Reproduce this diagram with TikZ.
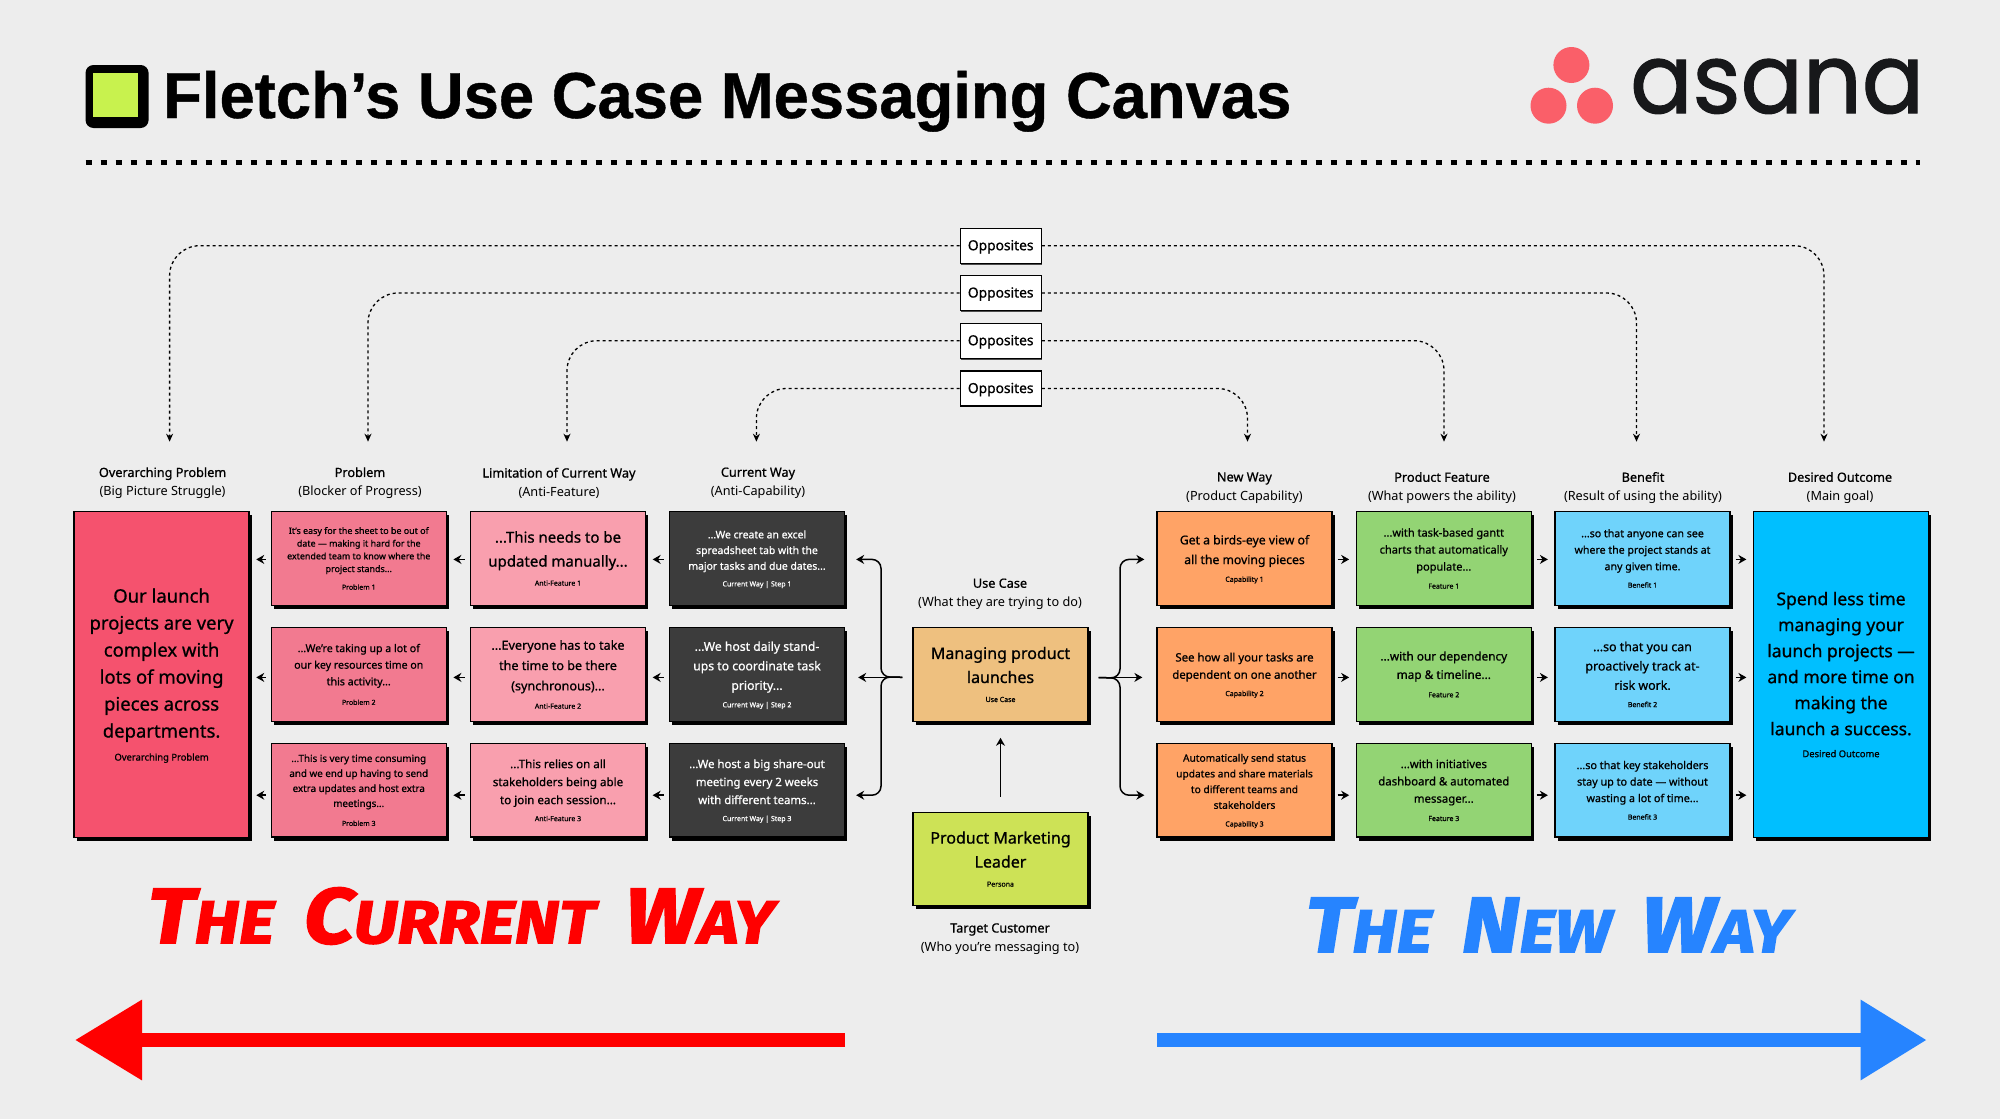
\documentclass[tikz,border=0pt]{standalone}
\usepackage{fontspec}
\usepackage{tikz}
\usetikzlibrary{arrows.meta,positioning,shadows}
\setmainfont{Noto Sans}
\newfontfamily\medfont{Noto Sans}[FakeBold=0.8]
\newfontfamily\titlefont{Liberation Sans}[FakeStretch=0.975,BoldFeatures={FakeBold=0.6}]
\newfontfamily\logofont{Poppins}[FakeStretch=0.95,FakeBold=1.2]
\newfontfamily\markfont{Fira Sans}[FakeStretch=1.13,UprightFont=*,ItalicFont=* Italic,BoldItalicFont=* Bold Italic,BoldItalicFeatures={FakeBold=2.5}]
\newcommand{\fs}[2]{\fontsize{#1pt}{#2pt}\selectfont\medfont}
\newcommand{\cardtag}[1]{\smash{\fontsize{7pt}{8pt}\selectfont\bfseries #1}}
\newcommand{\bigtag}[1]{\smash{\fontsize{9.4pt}{10pt}\selectfont\bfseries #1}}
\newcommand{\smcap}[2]{{\fontsize{78pt}{78pt}\selectfont #1}{\fontsize{60pt}{60pt}\selectfont #2}}
\definecolor{pagebg}{HTML}{EDEDED}
\definecolor{overred}{HTML}{F5526E}
\definecolor{probred}{HTML}{F27A90}
\definecolor{limpink}{HTML}{F99FAE}
\definecolor{curgrey}{HTML}{3C3C3C}
\definecolor{usetan}{HTML}{EEC07F}
\definecolor{perslime}{HTML}{CDE256}
\definecolor{neworange}{HTML}{FFA366}
\definecolor{featgreen}{HTML}{93D474}
\definecolor{benblue}{HTML}{6FD3FB}
\definecolor{goalblue}{HTML}{00BFFF}
\definecolor{wayblue}{HTML}{2684FF}
\definecolor{logocoral}{HTML}{FA5F69}
\definecolor{logolime}{HTML}{C8F24E}
\definecolor{logoink}{HTML}{17181A}
\tikzset{
    card/.style={draw=black,line width=1.3pt,minimum width=175pt,minimum height=93.5pt,
        inner sep=0pt,align=center,text=black,
        drop shadow={shadow xshift=2.6pt,shadow yshift=-3.6pt,fill=black,opacity=1}},
    tallcard/.style={card,minimum height=325.5pt},
    head/.style={align=center,inner sep=0pt,font=\fontsize{12.7pt}{18.7pt}\selectfont},
    oppbox/.style={draw=black,line width=1.2pt,fill=white,minimum width=81pt,minimum height=35pt,
        inner sep=0pt,text height=10pt,text depth=1pt,font=\fontsize{13.8pt}{16pt}\selectfont\medfont,
        drop shadow={shadow xshift=0.8pt,shadow yshift=-1.4pt,fill=black!70,opacity=1}},
    oppline/.style={line width=1.3pt,dash pattern=on 3pt off 3pt,rounded corners=30pt,
        -{Stealth[length=8pt,width=7pt]}},
    stub/.style={line width=1.5pt,shorten >=6.5pt,shorten <=5pt,-{Stealth[length=8pt,width=9pt]}},
    branch/.style={line width=1.5pt,rounded corners=9pt,-{Stealth[length=8pt,width=9pt]}}
}
\begin{document}
\begin{tikzpicture}[x=1pt,y=-1pt]
    \useasboundingbox (0,0) rectangle (2000,1119);
    \fill[pagebg] (0,0) rectangle (2000,1119);

    % Title row
    \fill[black,rounded corners=8pt] (85.5,65) rectangle (148.6,128);
    \fill[logolime] (92.5,72.7) rectangle (138.4,117.3);
    \node[anchor=base west,inner sep=0pt,font=\fontsize{65pt}{70pt}\selectfont\titlefont\bfseries] (title) at (163,118) {Fletch’s Use Case Messaging Canvas};
    \fill[logocoral] (1571.4,65) circle (18);
    \fill[logocoral] (1548.5,105.7) circle (18);
    \fill[logocoral] (1595,105.7) circle (18);
    \node[anchor=base west,inner sep=0pt,text=logoink,font=\fontsize{97pt}{100pt}\selectfont\logofont] (logo) at (1630,113) {asana};
    \draw[line width=4.6pt,dash pattern=on 6pt off 9pt] (85.5,162.7) -- (1920,162.7);

    % Column headers
    \node[head] (hover) at (162.6,483) {{\medfont Overarching Problem}\\(Big Picture Struggle)};
    \node[head] (hprob) at (360,483) {{\medfont Problem}\\(Blocker of Progress)};
    \node[head] (hlim) at (559,483) {{\medfont Limitation of Current Way}\\(Anti-Feature)};
    \node[head] (hcur) at (758,483) {{\medfont Current Way}\\(Anti-Capability)};
    \node[head] (huse) at (1000,594) {{\medfont Use Case}\\(What they are trying to do)};
    \node[head] (hpers) at (1000,938.8) {{\medfont Target Customer}\\(Who you’re messaging to)};
    \node[head] (hnew) at (1244.4,487.8) {{\medfont New Way}\\(Product Capability)};
    \node[head] (hfeat) at (1442,487.8) {{\medfont Product Feature}\\(What powers the ability)};
    \node[head] (hben) at (1643,487.8) {{\medfont Benefit}\\(Result of using the ability)};
    \node[head] (hgoal) at (1840,487.8) {{\medfont Desired Outcome}\\(Main goal)};

    % The current way
    \node[tallcard,fill=overred,font=\fs{18.5}{27}] (over) at (161.6,674.5) {Our launch\\projects are very\\complex with\\lots of moving\\pieces across\\departments.\\[-4pt]\bigtag{Overarching Problem}};
    \node[card,fill=probred,font=\fs{8.9}{12.7}] (prob1) at (358.75,558.4) {It’s easy for the sheet to be out of\\date — making it hard for the\\extended team to know where the\\project stands...\\[5pt]\cardtag{Problem 1}};
    \node[card,fill=probred,font=\fs{10.6}{16.6}] (prob2) at (358.75,674.4) {...We’re taking up a lot of\\our key resources time on\\this activity...\\[3pt]\cardtag{Problem 2}};
    \node[card,fill=probred,font=\fs{9.8}{15}] (prob3) at (358.75,790.2) {...This is very time consuming\\and we end up having to send\\extra updates and host extra\\meetings...\\[4pt]\cardtag{Problem 3}};
    \node[card,fill=limpink,font=\fs{15}{24}] (lim1) at (558,558.4) {...This needs to be\\updated manually...\\[-5pt]\cardtag{Anti-Feature 1}};
    \node[card,fill=limpink,font=\fs{12.6}{20.3}] (lim2) at (558,674.4) {...Everyone has to take\\the time to be there\\(synchronous)...\\[-2pt]\cardtag{Anti-Feature 2}};
    \node[card,fill=limpink,font=\fs{11.6}{18}] (lim3) at (558,790.2) {...This relies on all\\stakeholders being able\\to join each session...\\[-1pt]\cardtag{Anti-Feature 3}};
    \node[card,fill=curgrey,text=white,font=\fs{10.4}{15.7}] (cur1) at (757,558.4) {...We create an excel\\spreadsheet tab with the\\major tasks and due dates...\\[1pt]\cardtag{Current Way | Step 1}};
    \node[card,fill=curgrey,text=white,font=\fs{12.2}{19.5}] (cur2) at (757,674.4) {...We host daily stand-\\ups to coordinate task\\priority...\\[-2pt]\cardtag{Current Way | Step 2}};
    \node[card,fill=curgrey,text=white,font=\fs{11.4}{18}] (cur3) at (757,790.2) {...We host a big share-out\\meeting every 2 weeks\\with different teams...\\[-1pt]\cardtag{Current Way | Step 3}};

    % The middle
    \node[card,fill=usetan,font=\fs{16}{24}] (ucase) at (1000.5,674.4) {Managing product\\launches\\[-5pt]\cardtag{Use Case}};
    \node[card,fill=perslime,font=\fs{16}{24}] (persona) at (1000.5,859) {Product Marketing\\Leader\\[-5pt]\cardtag{Persona}};

    % The new way
    \node[card,fill=neworange,font=\fs{12.2}{19.7}] (new1) at (1244.5,558.4) {Get a birds-eye view of\\all the moving pieces\\[-2pt]\cardtag{Capability 1}};
    \node[card,fill=neworange,font=\fs{11.4}{17.3}] (new2) at (1244.5,674.4) {See how all your tasks are\\dependent on one another\\[0pt]\cardtag{Capability 2}};
    \node[card,fill=neworange,font=\fs{10.2}{15.7}] (new3) at (1244.5,790.2) {Automatically send status\\updates and share materials\\to different teams and\\stakeholders\\[2pt]\cardtag{Capability 3}};
    \node[card,fill=featgreen,font=\fs{11}{17}] (feat1) at (1443.8,558.4) {...with task-based gantt\\charts that automatically\\populate...\\[1pt]\cardtag{Feature 1}};
    \node[card,fill=featgreen,font=\fs{11.8}{18.4}] (feat2) at (1443.8,674.4) {...with our dependency\\map \& timeline...\\[0pt]\cardtag{Feature 2}};
    \node[card,fill=featgreen,font=\fs{11.4}{17.3}] (feat3) at (1443.8,790.2) {...with initiatives\\dashboard \& automated\\messager...\\[1pt]\cardtag{Feature 3}};
    \node[card,fill=benblue,font=\fs{10.6}{16.5}] (ben1) at (1642.5,558.4) {...so that anyone can see\\where the project stands at\\any given time.\\[1pt]\cardtag{Benefit 1}};
    \node[card,fill=benblue,font=\fs{12.4}{19.3}] (ben2) at (1642.5,674.4) {...so that you can\\proactively track at-\\risk work.\\[-2pt]\cardtag{Benefit 2}};
    \node[card,fill=benblue,font=\fs{10.8}{16.5}] (ben3) at (1642.5,790.2) {...so that key stakeholders\\stay up to date — without\\wasting a lot of time...\\[1pt]\cardtag{Benefit 3}};
    \node[tallcard,fill=goalblue,font=\fs{17.5}{26}] (goal) at (1841,674.5) {Spend less time\\managing your\\launch projects —\\and more time on\\making the\\launch a success.\\[-4pt]\bigtag{Desired Outcome}};

    % Opposites
    \node[oppbox] (opp1) at (1000.7,245.7) {Opposites};
    \node[oppbox] (opp2) at (1000.7,293) {Opposites};
    \node[oppbox] (opp3) at (1000.7,340.7) {Opposites};
    \node[oppbox] (opp4) at (1000.7,388.5) {Opposites};
    \coordinate (la) at (169.6,441.7);
    \coordinate (lb) at (368,441.7);
    \coordinate (lc) at (567,441.7);
    \coordinate (ld) at (756.4,441.7);
    \coordinate (ra) at (1824,441.7);
    \coordinate (rb) at (1636.5,441.7);
    \coordinate (rc) at (1444,441.7);
    \coordinate (rd) at (1247.5,441.7);
    \foreach \n/\l/\r in {1/la/ra,2/lb/rb,3/lc/rc,4/ld/rd} {
        \draw[oppline] (opp\n.west) -| (\l);
        \draw[oppline] (opp\n.east) -| (\r);
    }

    % Row arrows
    \foreach \i/\s in {1/-1,2/-3,3/-5} {
        \draw[stub] ([yshift=\s pt]prob\i.west) -- ([yshift=\s pt]over.east |- prob\i.west);
        \draw[stub] ([yshift=\s pt]lim\i.west) -- ([yshift=\s pt]prob\i.east);
        \draw[stub] ([yshift=\s pt]cur\i.west) -- ([yshift=\s pt]lim\i.east);
        \draw[stub] ([yshift=\s pt]new\i.east) -- ([yshift=\s pt]feat\i.west);
        \draw[stub] ([yshift=\s pt]feat\i.east) -- ([yshift=\s pt]ben\i.west);
        \draw[stub] ([yshift=\s pt]ben\i.east) -- ([yshift=\s pt]goal.west |- ben\i.east);
    }

    % Use case branches
    \coordinate (jleft) at (881,677);
    \coordinate (jright) at (1120,678);
    \draw[branch,shorten <=10pt,shorten >=11pt] ([yshift=-3pt]ucase.west) -- (jleft) |- ([yshift=-1pt]cur1.east);
    \draw[branch,shorten <=10pt,shorten >=11pt] ([yshift=-3pt]ucase.west) -- (jleft) |- ([yshift=-5pt]cur3.east);
    \draw[branch,shorten <=10pt,shorten >=13pt] ([yshift=-3pt]ucase.west) -- ([yshift=-3pt]cur2.east);
    \draw[branch,shorten <=10pt,shorten >=12pt] ([yshift=-3pt]ucase.east) -- (jright) |- ([yshift=-1pt]new1.west);
    \draw[branch,shorten <=10pt,shorten >=12pt] ([yshift=-3pt]ucase.east) -- (jright) |- ([yshift=-5pt]new3.west);
    \draw[branch,shorten <=10pt,shorten >=14pt] ([yshift=-3pt]ucase.east) -- ([yshift=-3pt]new2.west);
    \draw[branch,shorten <=15pt,shorten >=16pt] (persona.north) -- (ucase.south);

    % Big labels and arrows
    \node[anchor=base,inner sep=0pt,text=red,font=\markfont\bfseries\itshape] (curlabel) at (461,943) {\smcap{T}{HE}\hspace{30pt}\smcap{C}{URRENT}\hspace{30pt}\smcap{W}{AY}};
    \node[anchor=base,inner sep=0pt,text=wayblue,font=\markfont\bfseries\itshape] (newlabel) at (1548,952) {\smcap{T}{HE}\hspace{30pt}\smcap{N}{EW}\hspace{30pt}\smcap{W}{AY}};
    \coordinate (curstart) at (845,1040);
    \coordinate (curend) at (75,1040);
    \coordinate (newstart) at (1157,1040);
    \coordinate (newend) at (1926.6,1040);
    \draw[red,line width=13.5pt,-{Triangle[length=67pt,width=77pt]}] (curstart) -- (curend);
    \draw[wayblue,line width=13.5pt,-{Triangle[length=66pt,width=77pt]}] (newstart) -- (newend);
\end{tikzpicture}
\end{document}
